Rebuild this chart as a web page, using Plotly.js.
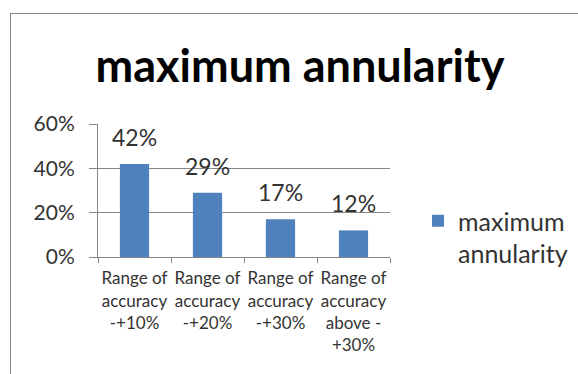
<!DOCTYPE html>
<html>
<head>
<meta charset="utf-8">
<script src="https://cdn.plot.ly/plotly-3.0.1.min.js"></script>
<style>
html,body{margin:0;padding:0;background:#fff;}
#wrap{position:relative;width:578px;height:374px;overflow:hidden;}
#chart{position:absolute;left:0;top:0;width:578px;height:374px;}
#frame{position:absolute;left:10px;top:13px;width:580px;height:380px;border-left:1px solid #868686;border-top:1px solid #868686;pointer-events:none;}
</style>
</head>
<body>
<div id="wrap"><div id="chart"></div><div id="frame"></div></div>
<script>
const categories = [
  "Range of<br>accuracy<br>-+10%",
  "Range of<br>accuracy<br>-+20%",
  "Range of<br>accuracy<br>-+30%",
  "Range of<br>accuracy<br>above -<br>+30%"
];
const values = [0.42, 0.29, 0.17, 0.12];
const dataLabels = ["42%", "29%", "17%", "12%"];
const seriesName = "maximum<br>annularity";
const chartTitle = "maximum annularity";
const yTickVals = [0, 0.2, 0.4, 0.6];
const yTickText = ["0%", "20%", "40%", "60%"];

const FONT = "Lato, 'Open Sans', sans-serif";
const GRID = "#868686";
const TXT = "#333333";

const trace = {
  type: "bar",
  x: categories,
  y: values,
  name: seriesName,
  marker: {color: "#4F81BD"},
  hoverinfo: "none"
};

const annotations = categories.map((c, i) => ({
  x: c, y: values[i], xref: "x", yref: "y",
  text: dataLabels[i], showarrow: false,
  yanchor: "bottom", yshift: 11,
  font: {family: FONT, size: 23, color: TXT}
}));

const layout = {
  width: 578, height: 374,
  margin: {l: 98, r: 188, t: 124, b: 117, pad: 0},
  paper_bgcolor: "#fff", plot_bgcolor: "#fff",
  showlegend: true,
  title: {
    text: "<b>" + chartTitle + "</b>",
    xref: "container", yref: "container",
    x: 300/578, xanchor: "center",
    y: 1 - 66/374, yanchor: "middle",
    font: {family: FONT, size: 45, color: "#000"}
  },
  bargap: 0.6,
  xaxis: {
    type: "category",
    showline: true, linecolor: GRID, linewidth: 1,
    ticks: "outside", tickson: "boundaries", ticklen: 5, tickcolor: GRID,
    tickfont: {family: FONT, size: 17, color: TXT},
    tickangle: 0,
    showgrid: false, zeroline: false,
    ticklabelstandoff: 6
  },
  yaxis: {
    range: [0, 0.6],
    tickvals: yTickVals, ticktext: yTickText,
    showline: true, linecolor: GRID, linewidth: 1,
    ticks: "outside", ticklen: 8, tickcolor: GRID,
    showgrid: true, gridcolor: GRID, gridwidth: 1,
    zeroline: false,
    tickfont: {family: FONT, size: 21, color: TXT},
    ticklabelstandoff: 10
  },
  legend: {
    xref: "container", yref: "container",
    x: 418/578, xanchor: "left",
    y: 1 - 198/374, yanchor: "top",
    valign: "top",
    font: {family: FONT, size: 25, color: TXT},
    bgcolor: "rgba(0,0,0,0)", borderwidth: 0
  },
  annotations: annotations
};

Plotly.newPlot("chart", [trace], layout, {staticPlot: true, displayModeBar: false});
</script>
</body>
</html>
